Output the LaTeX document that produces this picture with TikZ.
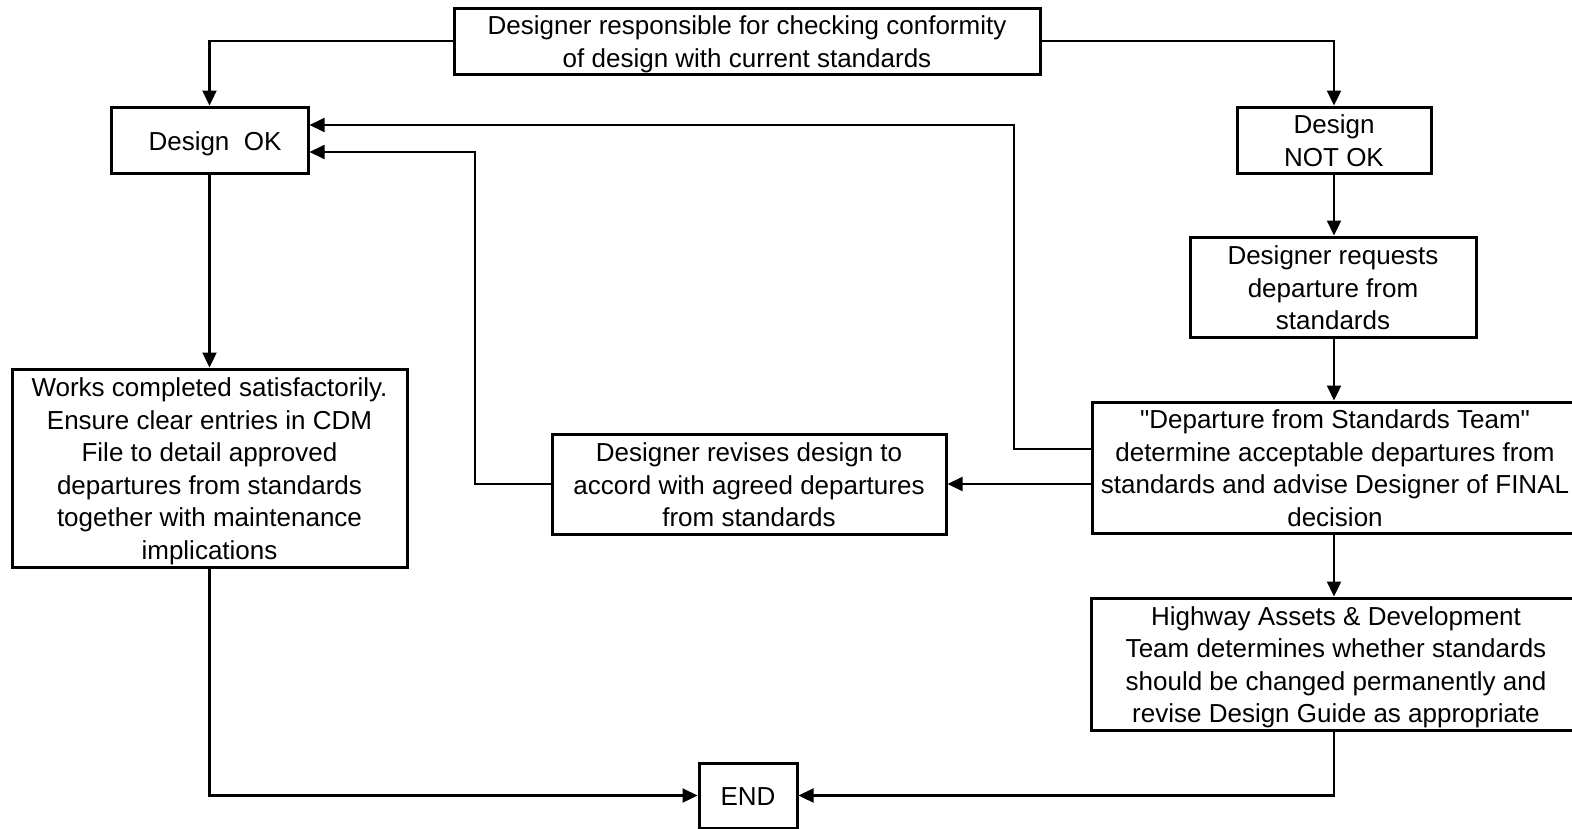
\documentclass[tikz,border=0pt]{standalone}
\usepackage{fontspec}
\setmainfont{Liberation Sans}
% same face without the TeX quote ligatures, for straight double quotes
\newfontfamily\plainfont{Liberation Sans}
\usetikzlibrary{arrows.meta}
% centred lines, set a little low in their box
\newcommand{\boxtext}[1]{\raisebox{-3.5pt}[\height][\depth]{\begin{tabular}{@{}c@{}}#1\end{tabular}}}
\newcommand{\dq}{{\plainfont"}}
\begin{document}
\begin{tikzpicture}[x=1pt,y=-1pt,
  box/.style={draw, line width=3pt, inner sep=0pt,
    font=\fontsize{26}{32.6}\selectfont},
  conn/.style={line width=2.3pt, -{Triangle[length=15pt,width=14pt]}},
  feed/.style={line width=1.8pt, -{Triangle[length=15pt,width=14pt]}},
]
\clip (0,0) rectangle (1572,828);
\fill[white] (0,0) rectangle (1572,828);

% process boxes
\node[box, minimum width=586pt, minimum height=66pt] (top) at (747,41)
  {\boxtext{Designer responsible for checking conformity\\of design with current standards}};
\node[box, minimum width=197pt, minimum height=66pt] (ok) at (209.5,140)
  {\boxtext{\hspace*{11pt}Design\ \ OK}};
\node[box, minimum width=194pt, minimum height=66pt] (notok) at (1334,140)
  {\boxtext{Design\\NOT OK}};
\node[box, minimum width=286pt, minimum height=100pt] (req) at (1333,287)
  {\boxtext{Designer requests\\departure from\\standards}};
\node[box, minimum width=486pt, minimum height=131pt] (dep) at (1335,467.5)
  {\boxtext{\dq Departure from Standards Team\dq\\determine acceptable departures from\\standards and advise Designer of FINAL\\decision}};
\node[box, minimum width=394pt, minimum height=100pt] (rev) at (749,484)
  {\boxtext{Designer revises design to\\accord with agreed departures\\from standards}};
\node[box, minimum width=395pt, minimum height=198pt] (works) at (209.5,468)
  {\boxtext{Works completed satisfactorily.\\Ensure clear entries in CDM\\File to detail approved\\departures from standards\\together with maintenance\\implications}};
\node[box, minimum width=490pt, minimum height=132pt] (hw) at (1336,664)
  {\boxtext{Highway Assets \& Development\\Team determines whether standards\\should be changed permanently and\\revise Design Guide as appropriate}};
\node[box, minimum width=98pt, minimum height=65pt] (end) at (748,795.5) {\boxtext{END}};

% bends of the two feedback routes
\coordinate (d1) at (1014,449);
\coordinate (r1) at (475,482);

% connectors
\draw[conn] (top.west) -| (ok.north);
\draw[conn] (top.east) -| (notok.north);
\draw[conn] (notok.south) -- (notok.south |- req.north);
\draw[conn] (notok.south |- req.south) -- (notok.south |- dep.north);
\draw[conn] (notok.south |- dep.south) -- (notok.south |- hw.north);
\draw[feed] (dep.west |- d1) -- (d1) |- ([yshift=15pt]ok.east);
\draw[conn] (dep.west |- rev.east) -- (rev.east);
\draw[feed] (rev.west) -- (rev.west -| r1) |- ([yshift=-12pt]ok.east);
\draw[conn] (ok.south) -- (works.north);
\draw[conn] (works.south) |- (end.west);
\draw[conn] (notok.south |- hw.south) |- (end.east);
\end{tikzpicture}
\end{document}
